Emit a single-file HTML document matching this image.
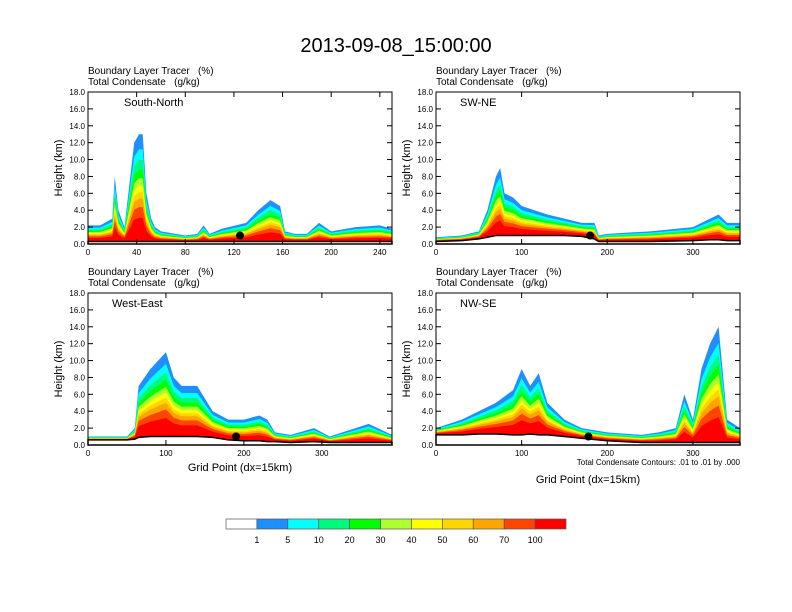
<!DOCTYPE html>
<html><head><meta charset="utf-8"><style>
body{margin:0;background:#fff;}
svg{display:block;font-family:"Liberation Sans",Arial,sans-serif;}
text{white-space:pre;}
</style></head><body>
<svg id="c" width="792" height="612" viewBox="0 0 792 612"></svg>
<script>
const panelNames=["South-North","SW-NE","West-East","NW-SE"];
const panelXmax=[250,355,390,355];
const panelXticks=[[0,40,80,120,160,200,240],[0,100,200,300],[0,100,200,300],[0,100,200,300]];
const yTicks=[0,2,4,6,8,10,12,14,16,18];
// tracer depth (km) at grid points
const gx1=[0,10,20,22,25,30,38,42,45,48,52,55,60,80,90,95,100,110,130,140,150,158,162,170,180,190,200,220,240,250];
const dep1=[2.2,2.2,3,8,4,2,12,13,13,6,3,2,1.5,1,1.2,2.2,1.2,1.8,2.5,4,5.2,4.5,1.5,1.2,1.2,2.5,1.5,2,2.2,1.8];
const gx2=[0,30,50,60,70,75,80,90,100,130,150,170,185,190,200,250,300,320,330,340,355];
const dep2=[0.8,1,1.5,4,8,9,6,5.5,4.5,3.5,3,2.5,2.5,1,1.2,1.5,2,3,3.5,2.5,2.5];
const gx3=[0,50,60,65,80,95,100,110,120,140,160,180,200,220,230,240,260,290,310,360,390];
const dep3=[1,1,2,7,9,10.5,11,8,7,7,4,3,3,3.5,3,1.5,1.2,2,1,2.5,1.2];
const gx4=[0,30,50,70,90,100,110,120,130,150,170,200,240,260,280,290,300,310,320,330,340,355];
const dep4=[2,3,4,5,6.5,9,7,8.5,5,3,2,1.5,1.2,1.5,2,6,3,9,12,14,3,2];
const ter1=[0.3,0.3,0.3,0.3,0.3,0.3,0.3,0.3,0.3,0.3,0.3,0.3,0.3,0.3,0.3,0.3,0.3,0.3,0.3,0.3,0.3,0.3,0.3,0.3,0.3,0.3,0.3,0.3,0.3,0.3];
const ter2=[0.3,0.4,0.6,0.8,1,1,1,1,1,1,1,0.9,0.6,0.3,0.3,0.3,0.4,0.5,0.5,0.4,0.4];
const ter3=[0.6,0.6,0.7,0.9,1,1,1,1,1,1,0.9,0.6,0.5,0.5,0.4,0.4,0.3,0.4,0.3,0.3,0.3];
const ter4=[1.2,1.2,1.3,1.3,1.2,1.2,1.3,1.2,1.2,1,0.8,0.5,0.3,0.3,0.3,0.3,0.3,0.3,0.3,0.3,0.3,0.3];
const dotX=[125,180,190,178];
const cbLabels=["1","5","10","20","30","40","50","60","70","100"];
const cbColors=["#ffffff","#1e8fff","#00ffff","#00fa80","#00ff00","#adff2f","#ffff00","#ffd700","#ffa500","#ff4500","#ff0000"];
const bandFrac=[1,0.86,0.76,0.67,0.59,0.52,0.46,0.4,0.32,0.22];
const panels=[{x:88,y:92,gx:gx1,d:dep1,t:ter1},{x:436,y:92,gx:gx2,d:dep2,t:ter2},{x:88,y:293,gx:gx3,d:dep3,t:ter3},{x:436,y:293,gx:gx4,d:dep4,t:ter4}];
const W=304,H=152,NS="http://www.w3.org/2000/svg";
const svg=document.getElementById('c');
function el(tag,attrs,parent,text){const e=document.createElementNS(NS,tag);for(const k in attrs)e.setAttribute(k,attrs[k]);if(text!==undefined)e.textContent=text;(parent||svg).appendChild(e);return e;}
const title=el('text',{x:396,y:52,'font-size':20,'text-anchor':'middle'},svg,'2013-09-08_15:00:00');


panels.forEach((p,i)=>{
  const g=el('g',{});
  
  
  const sx=v=>p.x+v/panelXmax[i]*W, sy=v=>p.y+H-v/18*H;
  for(let b=0;b<bandFrac.length;b++){
    let pts=[];
    p.gx.forEach((gx,j)=>pts.push(sx(gx)+','+sy(p.t[j]+(p.d[j]-p.t[j])*bandFrac[b])));
    for(let j=p.gx.length-1;j>=0;j--)pts.push(sx(p.gx[j])+','+sy(p.t[j]));
    const poly=el('polygon',{points:pts.join(' '),fill:cbColors[b+1]},g);
    
    
  }
  let tp=[sx(0)+','+sy(0)];
  p.gx.forEach((gx,j)=>tp.push(sx(gx)+','+sy(p.t[j])));
  tp.push(sx(p.gx[p.gx.length-1])+','+sy(0));
  const ter=el('polygon',{points:tp.join(' '),fill:'#fff',stroke:'#000','stroke-width':1.5},g);
  
  
  const dot=el('circle',{cx:sx(dotX[i]),cy:sy(1),r:4,fill:'#000'},g);
  
  
  const fr=el('rect',{x:p.x,y:p.y,width:W,height:H,fill:'none',stroke:'#000','stroke-width':1},g);
  
  
  yTicks.forEach(v=>{
    el('line',{x1:p.x,x2:p.x+5,y1:sy(v),y2:sy(v),stroke:'#000'},g);
    el('line',{x1:p.x+W,x2:p.x+W-5,y1:sy(v),y2:sy(v),stroke:'#000'},g);
    const t=el('text',{x:p.x-3,y:sy(v)+3,'font-size':8,'text-anchor':'end'},g,v.toFixed(1));
    
    
  });
  panelXticks[i].forEach(v=>{
    el('line',{x1:sx(v),x2:sx(v),y1:p.y+H,y2:p.y+H-5,stroke:'#000'},g);
    el('line',{x1:sx(v),x2:sx(v),y1:p.y,y2:p.y+5,stroke:'#000'},g);
    const t=el('text',{x:sx(v),y:p.y+H+11,'font-size':8,'text-anchor':'middle'},g,String(v));
    
    
  });
  const yl=el('text',{x:0,y:0,'font-size':11,'text-anchor':'middle',transform:`translate(${p.x-26},${p.y+H/2}) rotate(-90)`},g,'Height (km)');
  
  
  const h1=el('text',{x:p.x,y:p.y-18,'font-size':10},g,'Boundary Layer Tracer   (%)');
  
  
  const h2=el('text',{x:p.x,y:p.y-7,'font-size':10},g,'Total Condensate   (g/kg)');
  
  
  const nm=el('text',{x:p.x+(i==0?36:24),y:p.y+14,'font-size':11},g,panelNames[i]);
  
  
  if(i>=2){
    const xt=el('text',{x:p.x+W/2,y:i==2?p.y+H+26:p.y+H+38,'font-size':11,'text-anchor':'middle'},g,'Grid Point (dx=15km)');
    
    
  }
  if(i==3){
    const ct=el('text',{x:p.x+W,y:p.y+H+20,'font-size':8,'text-anchor':'end'},g,'Total Condensate Contours: .01 to .01 by .000');
    
    
  }
});
const cb=el('g',{});


const cbx=226,cbw=340/11;
cbColors.forEach((c,k)=>{
  const r=el('rect',{x:cbx+k*cbw,y:519,width:cbw,height:10,fill:c,stroke:'#555','stroke-width':0.7},cb);
  
  
});
cbLabels.forEach((l,k)=>{
  const t=el('text',{x:cbx+(k+1)*cbw,y:543,'font-size':9,'text-anchor':'middle'},cb,l);
  
  
});
</script>
</body></html>
